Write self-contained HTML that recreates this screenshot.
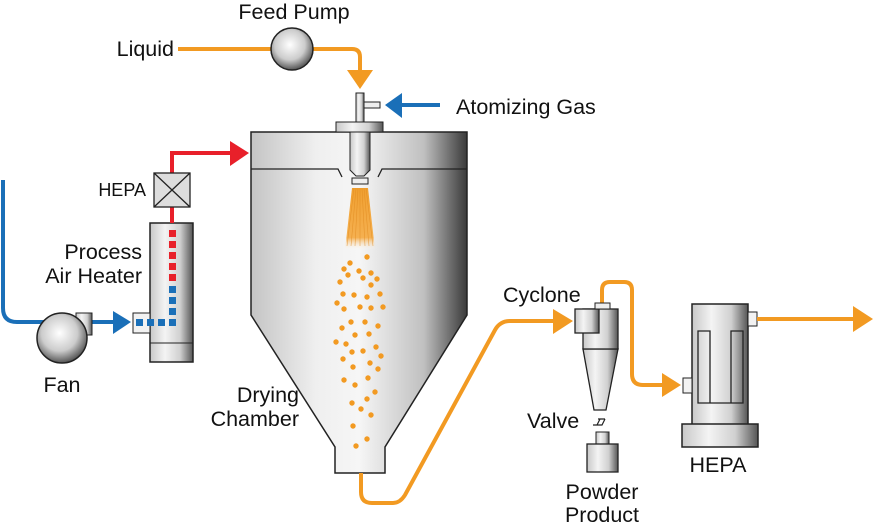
<!DOCTYPE html>
<html><head><meta charset="utf-8"><style>
html,body{margin:0;padding:0;background:#fff;}
svg{display:block;}
text{font-family:"Liberation Sans",sans-serif;font-size:21.5px;fill:#111;}
</style></head><body>
<svg width="874" height="524" viewBox="0 0 874 524" xmlns="http://www.w3.org/2000/svg">
<defs>
<linearGradient id="m" x1="0" x2="1" y1="0" y2="0">
<stop offset="0" stop-color="#c8c8c8"/><stop offset="0.35" stop-color="#f4f4f4"/><stop offset="0.7" stop-color="#d0d0d0"/><stop offset="1" stop-color="#555"/>
</linearGradient>
<linearGradient id="ch" x1="0" x2="1" y1="0" y2="0">
<stop offset="0" stop-color="#c4c4c4"/><stop offset="0.3" stop-color="#efefef"/><stop offset="0.5" stop-color="#f6f6f6"/><stop offset="0.8" stop-color="#c0c0c0"/><stop offset="1" stop-color="#3a3a3a"/>
</linearGradient>
<radialGradient id="ball" cx="0.45" cy="0.4" r="0.6">
<stop offset="0" stop-color="#fff"/><stop offset="0.6" stop-color="#ccc"/><stop offset="1" stop-color="#555"/>
</radialGradient>
<linearGradient id="spray" x1="0" x2="0" y1="0" y2="1">
<stop offset="0" stop-color="#f0a030"/><stop offset="0.8" stop-color="#f5b050"/><stop offset="1" stop-color="#fff" stop-opacity="0"/>
</linearGradient>
</defs>

<path d="M251,132 H467 V315 L385,447 V473 H335 V447 L251,315 Z" fill="url(#ch)" stroke="#222" stroke-width="1.5"/>
<path d="M251,169 H338 L342,177 M467,169 H382 L378,177" fill="none" stroke="#222" stroke-width="1.3"/>
<rect x="356" y="93" width="8" height="30" fill="url(#m)" stroke="#222"/>
<rect x="364" y="102" width="16" height="6" fill="#eee" stroke="#222"/>
<rect x="336" y="122" width="47" height="10" fill="url(#m)" stroke="#222"/>
<path d="M350,132 V170 L356,176 H364 L370,170 V132 Z" fill="url(#m)" stroke="#222"/>
<rect x="352" y="178" width="16" height="6" fill="#eee" stroke="#222"/>
<path d="M352,188 H368 L375,250 H345 Z" fill="url(#spray)"/>
<g stroke="#e08a20" stroke-width="0.6" opacity="0.7">
<path d="M354,188 L347,246 M356,188 L351,246 M358,188 L355,246 M360,188 L360,246 M362,188 L365,246 M364,188 L369,246 M366,188 L373,246"/>
</g>
<g fill="#f29a22">
<circle cx="367" cy="257" r="2.7"/><circle cx="350" cy="263" r="2.7"/><circle cx="344" cy="269" r="2.7"/><circle cx="348" cy="275" r="2.7"/><circle cx="359" cy="271" r="2.7"/><circle cx="371" cy="273" r="2.7"/><circle cx="363" cy="278" r="2.7"/><circle cx="377" cy="279" r="2.7"/><circle cx="340" cy="282" r="2.7"/><circle cx="371" cy="285" r="2.7"/><circle cx="343" cy="294" r="2.7"/><circle cx="354" cy="295" r="2.7"/><circle cx="367" cy="297" r="2.7"/><circle cx="380" cy="294" r="2.7"/><circle cx="337" cy="303" r="2.7"/><circle cx="344" cy="309" r="2.7"/><circle cx="360" cy="307" r="2.7"/><circle cx="371" cy="308" r="2.7"/><circle cx="383" cy="307" r="2.7"/><circle cx="351" cy="322" r="2.7"/><circle cx="365" cy="322" r="2.7"/><circle cx="342" cy="328" r="2.7"/><circle cx="378" cy="326" r="2.7"/><circle cx="355" cy="335" r="2.7"/><circle cx="369" cy="334" r="2.7"/><circle cx="336" cy="342" r="2.7"/><circle cx="346" cy="344" r="2.7"/><circle cx="376" cy="347" r="2.7"/><circle cx="352" cy="352" r="2.7"/><circle cx="363" cy="351" r="2.7"/><circle cx="343" cy="359" r="2.7"/><circle cx="381" cy="356" r="2.7"/><circle cx="370" cy="363" r="2.7"/><circle cx="353" cy="367" r="2.7"/><circle cx="378" cy="369" r="2.7"/><circle cx="344" cy="380" r="2.7"/><circle cx="355" cy="385" r="2.7"/><circle cx="368" cy="378" r="2.7"/><circle cx="375" cy="392" r="2.7"/><circle cx="352" cy="403" r="2.7"/><circle cx="367" cy="399" r="2.7"/><circle cx="361" cy="409" r="2.7"/><circle cx="371" cy="415" r="2.7"/><circle cx="353" cy="426" r="2.7"/><circle cx="367" cy="439" r="2.7"/><circle cx="356" cy="446" r="2.7"/>
</g>

<path d="M178,49 H271 M313,49 H352 Q360,49 360,57 V72" fill="none" stroke="#f29a22" stroke-width="4"/>
<path d="M347,70 H373 L360,89 Z" fill="#f29a22"/>
<circle cx="292" cy="49" r="21" fill="url(#ball)" stroke="#222" stroke-width="1.5"/>
<path d="M440,105 H400" stroke="#1a6fb8" stroke-width="4"/>
<path d="M402,93 V118 L385,105 Z" fill="#1a6fb8"/>

<path d="M3,180 V308 Q3,322 17,322 H115" fill="none" stroke="#1a6fb8" stroke-width="4"/>
<path d="M113,311 V334 L131,322 Z" fill="#1a6fb8"/>
<rect x="76" y="313" width="16" height="22" fill="url(#m)" stroke="#222"/>
<circle cx="62" cy="338" r="25" fill="url(#ball)" stroke="#222" stroke-width="1.5"/>
<rect x="150" y="223" width="43" height="139" fill="url(#m)" stroke="#222" stroke-width="1.5"/>
<line x1="150" y1="343" x2="193" y2="343" stroke="#222"/>
<rect x="133" y="313" width="17" height="20" fill="#f2f2f2" stroke="#222"/>
<g fill="#e8202a">
<rect x="169" y="230" width="7" height="7"/><rect x="169" y="241" width="7" height="7"/><rect x="169" y="252" width="7" height="7"/><rect x="169" y="263" width="7" height="7"/><rect x="169" y="274" width="7" height="7"/>
</g>
<g fill="#1a6fb8">
<rect x="169" y="286" width="7" height="7"/><rect x="169" y="297" width="7" height="7"/><rect x="169" y="308" width="7" height="7"/><rect x="169" y="319" width="7" height="7"/><rect x="158" y="319" width="7" height="7"/><rect x="147" y="319" width="7" height="7"/><rect x="136" y="319" width="7" height="7"/>
</g>
<path d="M172,223 V206 M172,173 V153 H235" fill="none" stroke="#e8202a" stroke-width="4"/>
<path d="M230,141 V166 L249,153 Z" fill="#e8202a"/>
<rect x="154" y="173" width="36" height="34" fill="#ddd" stroke="#222" stroke-width="1.3"/>
<path d="M154,173 L190,207 M190,173 L154,207" stroke="#222" stroke-width="1.3"/>

<path d="M361,473 V492 Q361,503 372,503 H393 Q400,503 405,495 L495,330 Q500,321 510,321 H556" fill="none" stroke="#f29a22" stroke-width="4"/>
<path d="M553,309 V334 L573,321 Z" fill="#f29a22"/>
<path d="M602,304 V290 Q602,282 610,282 H624 Q632,282 632,290 V374 Q632,385 643,385 H665" fill="none" stroke="#f29a22" stroke-width="4"/>
<path d="M662,373 V397 L681,385 Z" fill="#f29a22"/>
<path d="M583,349 H618 L606,410 H594 Z" fill="url(#m)" stroke="#222" stroke-width="1.3"/>
<rect x="583" y="309" width="35" height="40" fill="url(#m)" stroke="#222" stroke-width="1.3"/>
<rect x="575" y="309" width="24" height="24" fill="url(#m)" stroke="#222" stroke-width="1.3"/>
<rect x="595" y="303" width="15" height="6" fill="#eee" stroke="#222"/>
<path d="M593,425 L597,425 L600,419 H605 M597,425 H602 L605,419 M598,419 H604" fill="none" stroke="#222" stroke-width="1.2"/>
<rect x="596" y="432" width="13" height="12" fill="url(#m)" stroke="#222"/>
<rect x="587" y="444" width="31" height="28" fill="url(#m)" stroke="#222" stroke-width="1.3"/>

<rect x="692" y="304" width="56" height="121" fill="url(#m)" stroke="#222" stroke-width="1.5"/>
<rect x="682" y="424" width="76" height="23" fill="url(#m)" stroke="#222" stroke-width="1.5"/>
<path d="M698,331 H710 V403 H698 Z M731,331 H743 V403 H731 Z M698,403 H743" fill="none" stroke="#222" stroke-width="1.3"/>
<rect x="683" y="378" width="9" height="15" fill="#f2f2f2" stroke="#222"/>
<rect x="748" y="312" width="9" height="14" fill="#f2f2f2" stroke="#222"/>
<path d="M757,319 H856" stroke="#f29a22" stroke-width="4"/>
<path d="M853,306 V332 L873,319 Z" fill="#f29a22"/>

<text x="294" y="19" text-anchor="middle">Feed Pump</text>
<text x="174" y="56" text-anchor="end">Liquid</text>
<text x="456" y="114">Atomizing Gas</text>
<text x="146" y="196" text-anchor="end" style="font-size:18px">HEPA</text>
<text x="142" y="259" text-anchor="end">Process</text>
<text x="142" y="283" text-anchor="end">Air Heater</text>
<text x="62" y="392" text-anchor="middle">Fan</text>
<text x="299" y="402" text-anchor="end">Drying</text>
<text x="299" y="426" text-anchor="end">Chamber</text>
<text x="503" y="302">Cyclone</text>
<text x="527" y="428">Valve</text>
<text x="602" y="499" text-anchor="middle">Powder</text>
<text x="602" y="522" text-anchor="middle">Product</text>
<text x="718" y="472" text-anchor="middle">HEPA</text>
</svg>
</body></html>
